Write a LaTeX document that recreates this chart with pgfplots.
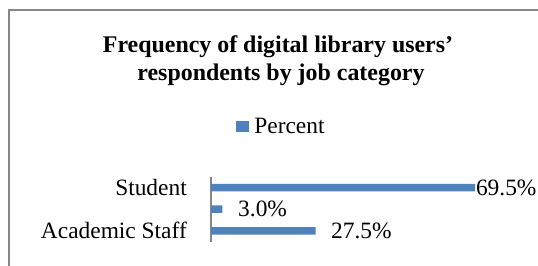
\documentclass[border=0pt]{standalone}
\usepackage{pgfplots}
\pgfplotsset{compat=1.18}
\usepackage{pgfplotstable}
\usepackage{fontspec}
\setmainfont{Liberation Serif}
\definecolor{barblue}{RGB}{79,129,189}
\definecolor{framegray}{RGB}{134,134,134}

\pgfplotstableread{
pos val shift lab
0 27.5 15.5 27.5\%
1 3.0 15.6 3.0\%
2 69.5 0.7 69.5\%
}\jobdata

\begin{document}
\begin{tikzpicture}
\useasboundingbox (0,0) rectangle (538bp,-266bp);
\draw[framegray, line width=2bp, line join=miter] (8.5bp,-400bp) -- (8.5bp,-10bp) -- (700bp,-10bp);
\node[font=\fontsize{24}{28}\selectfont\bfseries, anchor=base, inner sep=0pt] at (278bp,-52.3bp) {Frequency of digital library users’};
\node[font=\fontsize{24}{28}\selectfont\bfseries, anchor=base, inner sep=0pt] at (281bp,-80bp) {respondents by job category};
\begin{axis}[
  at={(211bp,-241.7bp)}, anchor=south west,
  scale only axis, width=304bp, height=65bp,
  xmin=0, xmax=80, ymin=-0.5, ymax=2.5,
  xbar, bar width=7.5bp,
  axis x line=none,
  axis y line*=left,
  y axis line style={framegray, line width=1.2bp, -},
  ytick={0,1,2}, yticklabels={Academic Staff,,Student},
  major tick length=0pt,
  yticklabel style={font=\fontsize{23.5}{28}\selectfont, inner sep=0pt, xshift=-24bp},
  clip=false,
  legend style={at={(axis description cs:0.2286,1.772)}, anchor=center, draw=none, fill=none, inner sep=0pt, column sep=5.5bp, font=\fontsize{23.5}{28}\selectfont, nodes={inner sep=0pt}},
]
\addplot[fill=barblue, draw=none, point meta=explicit symbolic, nodes near coords,
  visualization depends on={\thisrow{shift}\as\myshift},
  every node near coord/.append style={anchor=west, inner sep=0pt, xshift=\myshift*1bp, font=\fontsize{23.5}{28}\selectfont, text=black},
  legend image code/.code={\fill[barblue] (0bp,-5.5bp) rectangle (12.5bp,5.5bp);}
] table[x=val, y=pos, meta=lab] {\jobdata};
\addlegendentry{Percent}
\end{axis}
\end{tikzpicture}
\end{document}
